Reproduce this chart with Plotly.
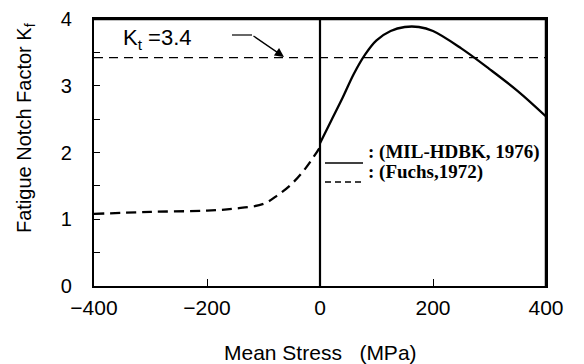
import plotly.graph_objects as go

# MIL-HDBK (1976) solid curve
mil_x = [0, 20, 40, 60, 80, 100, 125, 150, 175, 200, 250, 300, 350, 400]
mil_y = [2.14, 2.48, 2.82, 3.18, 3.47, 3.68, 3.82, 3.88, 3.88, 3.82, 3.56, 3.25, 2.92, 2.54]

# Fuchs (1972) dashed curve
fuchs_x = [-400, -300, -200, -150, -100, -75, -50, -25, 0]
fuchs_y = [1.08, 1.11, 1.13, 1.16, 1.23, 1.36, 1.53, 1.77, 2.08]

# Kt line
kt_x = [-400, 400]
kt_y = [3.42, 3.42]

fig = go.Figure()
fig.add_trace(go.Scatter(x=kt_x, y=kt_y, mode="lines",
                         line=dict(color="black", width=1.2, dash="9px,6px"), showlegend=False))
fig.add_trace(go.Scatter(x=fuchs_x, y=fuchs_y, mode="lines", line_shape="spline",
                         line=dict(color="black", width=2.3, dash="10px,6px"), showlegend=False))
fig.add_trace(go.Scatter(x=mil_x, y=mil_y, mode="lines", line_shape="spline",
                         line=dict(color="black", width=2.3), showlegend=False))

# vertical line at x=0
fig.add_shape(type="line", xref="x", yref="paper", x0=0, x1=0, y0=0, y1=1,
              line=dict(color="black", width=2.2))

L, R, T, B = 94, 38, 19, 78
W, H = 584, 364
pw, ph = W - L - R, H - T - B

def px(x):
    return (x - L) / pw

def py(y):
    return (H - B - y) / ph

# frame (top and right edges)
fig.add_shape(type="line", xref="paper", yref="paper", x0=0, x1=1, y0=1, y1=1,
              line=dict(color="black", width=2.5), layer="above")
fig.add_shape(type="line", xref="paper", yref="paper", x0=1, x1=1, y0=0, y1=1,
              line=dict(color="black", width=2.5), layer="above")

# legend samples
fig.add_shape(type="line", xref="paper", yref="paper", x0=px(325), x1=px(363), y0=py(163), y1=py(163),
              line=dict(color="black", width=1.5))
fig.add_shape(type="line", xref="paper", yref="paper", x0=px(325), x1=px(363), y0=py(182), y1=py(182),
              line=dict(color="black", width=1.5, dash="6px,4px"))
fig.add_annotation(xref="paper", yref="paper", x=px(366), y=py(152), xanchor="left", yanchor="middle",
                   text="<b>: (MIL-HDBK, 1976)</b>", showarrow=False,
                   font=dict(family="Liberation Serif", size=19, color="black"))
fig.add_annotation(xref="paper", yref="paper", x=px(366), y=py(172), xanchor="left", yanchor="middle",
                   text="<b>: (Fuchs,1972)</b>", showarrow=False,
                   font=dict(family="Liberation Serif", size=19, color="black"))

# Kt label and arrow
fig.add_annotation(xref="paper", yref="paper", x=px(121), y=py(39), xanchor="left", yanchor="middle",
                   text="K<sub>t</sub> =3.4", showarrow=False,
                   font=dict(family="Liberation Sans", size=22, color="black"))
fig.add_shape(type="line", xref="paper", yref="paper", x0=px(232), x1=px(252), y0=py(35), y1=py(35),
              line=dict(color="black", width=1.2))
fig.add_annotation(xref="paper", yref="paper", x=px(284), y=py(57), ax=-32, ay=-22,
                   text="", showarrow=True, arrowhead=2, arrowsize=1.4, arrowwidth=1.3, arrowcolor="black")

# axis titles as annotations
fig.add_annotation(xref="paper", yref="paper", x=px(320), y=py(352), xanchor="center", yanchor="middle",
                   text="Mean Stress   (MPa)", showarrow=False,
                   font=dict(family="Liberation Sans", size=21, color="black"))
fig.add_annotation(xref="paper", yref="paper", x=px(25), y=py(128), xanchor="center", yanchor="middle",
                   text="Fatigue Notch Factor K<sub>f</sub>", showarrow=False, textangle=-90,
                   font=dict(family="Liberation Sans", size=20, color="black"))

fig.update_layout(
    width=W, height=H,
    margin=dict(l=L, r=R, t=T, b=B, autoexpand=False),
    plot_bgcolor="white", paper_bgcolor="white",
    font=dict(family="Liberation Sans", size=20, color="black"),
    xaxis=dict(range=[-400, 400], tickvals=[-400, -200, 0, 200, 400],
               ticktext=["\u2212400", "\u2212200", "0", "200", "400"],
               ticks="inside", ticklen=7, tickwidth=1, tickcolor="black",
               tickfont=dict(size=21), ticklabelstandoff=2, automargin=False,
               showline=True, linecolor="black", linewidth=2.2, mirror=True,
               showgrid=False, zeroline=False),
    yaxis=dict(range=[0, 4], dtick=1, automargin=False,
               ticks="inside", ticklen=6, tickwidth=1, tickcolor="black",
               minor=dict(dtick=0.5, ticks="inside", ticklen=6, tickcolor="black", showgrid=False),
               tickfont=dict(size=20),
               showline=True, linecolor="black", linewidth=2.2, mirror=True,
               showgrid=False, zeroline=False, ticklabelstandoff=16),
)

fig.write_html("out.html")
